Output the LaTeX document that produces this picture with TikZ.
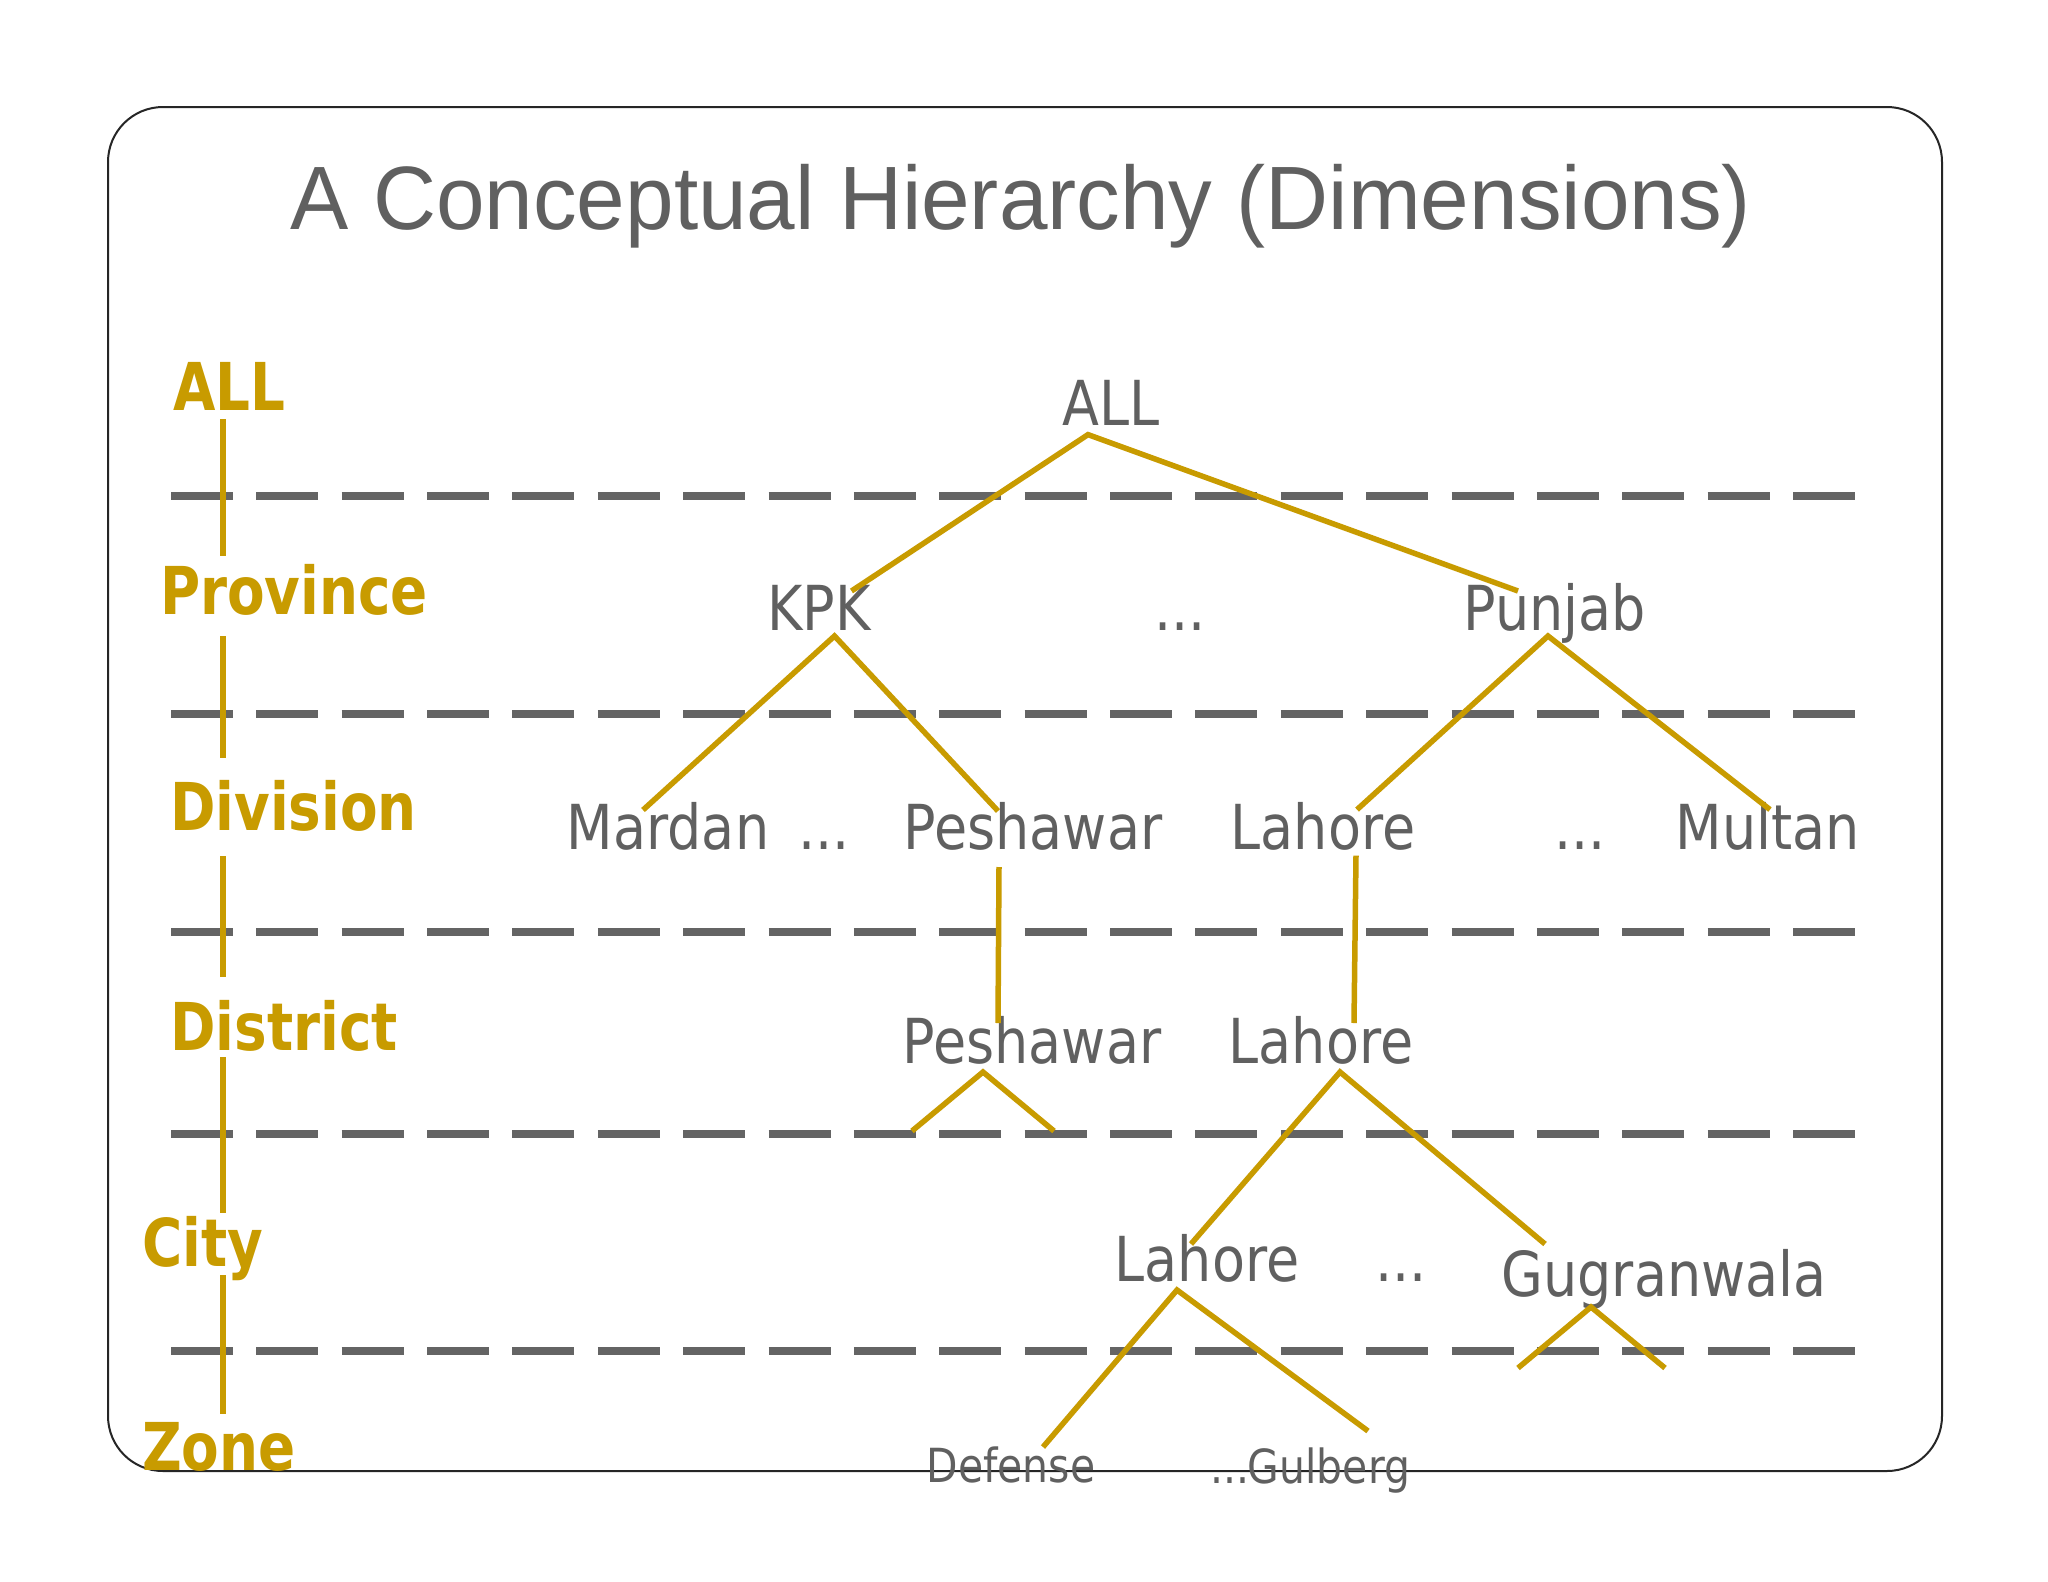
\documentclass[tikz,border=0pt]{standalone}
\usepackage{fontspec}
\setmainfont{DejaVu Sans}
\newfontfamily\titlefont[FakeStretch=0.97]{Liberation Sans}
\newfontfamily\treefont[FakeStretch=0.87]{DejaVu Sans}
\newfontfamily\lvlfont[FakeStretch=0.83]{DejaVu Sans}
\definecolor{gold}{HTML}{C89B00}
\definecolor{ink}{HTML}{606060}
\definecolor{dashgray}{HTML}{646464}
\begin{document}
\begin{tikzpicture}[x=1pt,y=-1pt,
  lvl/.style={anchor=base west, inner sep=0pt, text=gold, font=\lvlfont\bfseries\fontsize{66}{66}\selectfont},
  item/.style={anchor=base, inner sep=0pt, text=ink, font=\treefont\fontsize{62}{62}\selectfont},
  smallitem/.style={anchor=base, inner sep=0pt, text=ink, font=\treefont\fontsize{47}{47}\selectfont},
  branch/.style={draw=gold, line width=5.5pt},
  sep/.style={draw=dashgray, line width=8.5pt, dash pattern=on 62pt off 23.37pt},
  frame/.style={draw=black!85, line width=2pt, rounded corners=55pt},
]
\useasboundingbox (0,0) rectangle (2048,1582);
\fill[white] (0,0) rectangle (2048,1582);
\draw[frame] (108,107) rectangle (1942,1471);

% title
\node[anchor=base, inner sep=0pt, text=ink, font=\titlefont\fontsize{90}{90}\selectfont] (title) at (1021,229) {A Conceptual Hierarchy (Dimensions)};

% level separators
\foreach \yy in {496,714,932,1134,1351}
  \draw[sep] (171,\yy) -- (1855,\yy);

% level labels
\node[lvl] (l-all)  at (173,410)  {ALL};
\node[lvl] (l-prov) at (160,614)  {Province};
\node[lvl] (l-div)  at (170,830)  {Division};
\node[lvl] (l-dist) at (170,1050) {District};
\node[lvl] (l-city) at (142,1266) {City};
\node[lvl] (l-zone) at (142,1470) {Zone};

% level axis
\coordinate (ax1a) at (223,419);  \coordinate (ax1b) at (223,556);
\coordinate (ax2a) at (223,636);  \coordinate (ax2b) at (223,758);
\coordinate (ax3a) at (223,856);  \coordinate (ax3b) at (223,977);
\coordinate (ax4a) at (223,1057); \coordinate (ax4b) at (223,1213);
\coordinate (ax5a) at (223,1275); \coordinate (ax5b) at (223,1414);
\draw[branch] (ax1a) -- (ax1b);
\draw[branch] (ax2a) -- (ax2b);
\draw[branch] (ax3a) -- (ax3b);
\draw[branch] (ax4a) -- (ax4b);
\draw[branch] (ax5a) -- (ax5b);

% tree nodes
\node[item] (n-all)  at (1111,425.5) {ALL};
\node[item] (n-kpk)  at (819,630.5)  {KPK};
\node[item] (n-d1)   at (1180,630.5) {...};
\node[item] (n-pun)  at (1555,630.5) {Punjab};
\node[item] (n-mar)  at (668,849)    {Mardan};
\node[item] (n-d2)   at (824,849)    {...};
\node[item] (n-pes)  at (1033,849)   {Peshawar};
\node[item] (n-lah)  at (1323,849)   {Lahore};
\node[item] (n-d3)   at (1580,849)   {...};
\node[item] (n-mul)  at (1768,849)   {Multan};
\node[item] (n-pes2) at (1032,1063.7) {Peshawar};
\node[item] (n-lah2) at (1321,1063.7) {Lahore};
\node[item] (n-lah3) at (1207,1281)  {Lahore};
\node[item] (n-d4)   at (1401,1281)  {...};
\node[item] (n-gug)  at (1664,1296)  {Gugranwala};
\node[smallitem] (n-def) at (1011,1482) {Defense};
\node[smallitem] (n-d5)  at (1230,1483) {...};
\node[smallitem] (n-gul) at (1329,1483) {Gulberg};

% connector end points
\coordinate (all-b)  at (1088,434.6);
\coordinate (kpk-t)  at (851.5,591);
\coordinate (pun-t)  at (1518,591);
\coordinate (kpk-b)  at (834.5,636);
\coordinate (mar-t)  at (643,810);
\coordinate (pes-t)  at (998,811);
\coordinate (pun-b)  at (1548,636);
\coordinate (lah-t)  at (1357,809.6);
\coordinate (mul-t)  at (1770,809.6);
\coordinate (pes-b)  at (999,867);
\coordinate (pes2-t) at (998,1023);
\coordinate (lah-b)  at (1356,855.6);
\coordinate (lah2-t) at (1354,1023);
\coordinate (pes2-b) at (983,1072);
\coordinate (pes2-l) at (912,1131);
\coordinate (pes2-r) at (1054,1131);
\coordinate (lah2-b) at (1340,1072);
\coordinate (lah3-t) at (1191,1244);
\coordinate (gug-t)  at (1545,1244);
\coordinate (lah3-b) at (1177,1290);
\coordinate (def-t)  at (1043,1447);
\coordinate (gul-t)  at (1368,1431);
\coordinate (gug-b)  at (1591,1307);
\coordinate (gug-l)  at (1518,1368);
\coordinate (gug-r)  at (1665,1368);

% connectors
\draw[branch] (kpk-t) -- (all-b) -- (pun-t);
\draw[branch] (mar-t) -- (kpk-b) -- (pes-t);
\draw[branch] (lah-t) -- (pun-b) -- (mul-t);
\draw[branch] (pes-b) -- (pes2-t);
\draw[branch] (lah-b) -- (lah2-t);
\draw[branch] (pes2-l) -- (pes2-b) -- (pes2-r);
\draw[branch] (lah3-t) -- (lah2-b) -- (gug-t);
\draw[branch] (def-t) -- (lah3-b) -- (gul-t);
\draw[branch] (gug-l) -- (gug-b) -- (gug-r);
\end{tikzpicture}
\end{document}
